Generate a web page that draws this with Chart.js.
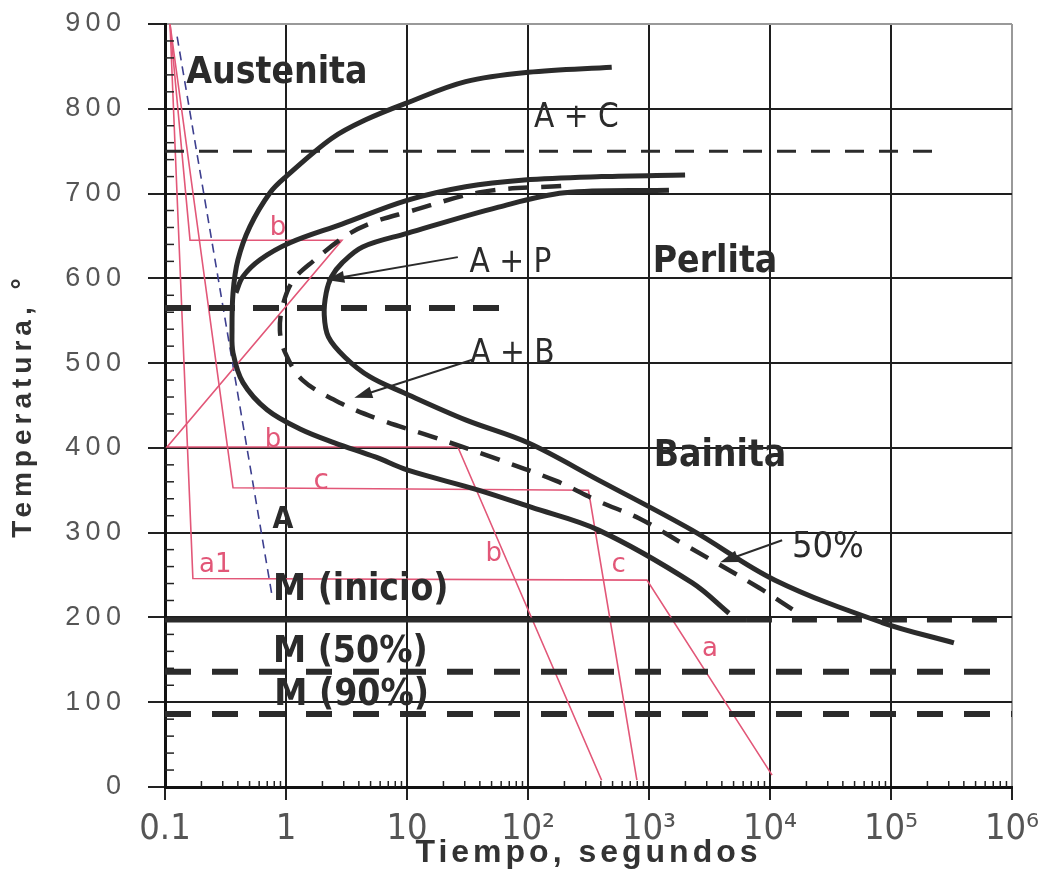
<!DOCTYPE html>
<html>
<head>
<meta charset="utf-8">
<script src="https://cdn.jsdelivr.net/npm/chart.js@4.4.0/dist/chart.umd.min.js"></script>
<style>
    body { margin: 0; background: #fff; }
    #wrap { width: 1064px; height: 884px; position: relative; }
</style>
</head>
<body>
<div id="wrap"><canvas id="ttt-chart"></canvas></div>
<script>
//////////////////////////////////////////////////////////////////////////////////////
//------------------------ DATA (time in s, temperature in °C) ----------------------//
var tickTemps = [0, 100, 200, 300, 400, 500, 600, 700, 800, 900]
var tickTimes = [0.1, 1, 10, 100, 1000, 10000, 100000, 1000000]
var tickTimeLabels = ['0.1', '1', '10', '10²', '10³', '10⁴', '10⁵', '10⁶']

//Start of transformation (cementite + pearlite/bainite start)
var startTime = [492, 100, 30.5, 10, 4.55, 2.38, 1.0, 0.738, 0.503, 0.401, 0.365, 0.358, 0.365, 0.441, 0.697, 1.32, 2.52, 5.54, 10, 39.5, 106, 383, 2265, 4580]
var startTemp = [849, 843, 832, 807, 787, 765, 720, 701, 661, 622, 583, 539, 512, 477, 445, 422, 406, 389, 374, 350, 330, 303, 241, 205]

//Pearlite start branch
var pearliteTime = [1987, 406, 93, 30.5, 10, 2.9, 1.08, 0.61, 0.44, 0.386]
var pearliteTemp = [722, 720, 716, 708, 692, 664, 642, 622, 602, 583]

//50% transformed (dashed)
var halfTime = [188, 41.8, 10, 5.22, 3.19, 1.67, 1.15, 0.944, 0.89, 0.98, 1.37, 2.9, 6.35, 15.6, 50.3, 171, 383, 825, 1803, 8110, 18400]
var halfTemp = [709, 702, 678, 666, 651, 620, 598, 569, 539, 513, 480, 452, 432, 414, 389, 361, 337, 317, 289, 235, 202]

//End of transformation
var finishTime = [1462, 200, 57, 10, 4.29, 2.9, 2.38, 2.15, 2.07, 2.24, 3.07, 4.92, 9.4, 30.5, 100, 383, 2265, 11000, 84300, 331000]
var finishTemp = [704, 701, 684, 653, 637, 618, 602, 583, 557, 531, 507, 484, 465, 433, 406, 362, 303, 244, 194, 170]

//Horizontal reference lines
var a1Time = [0.1, 245000], a1Temp = [750, 750]
var midTime = [0.1, 73], midTemp = [565, 565]
var msSolidTime = [0.1, 6450], msDashTime = [6450, 1000000], msTemp = [197, 197]
var m50Time = [0.1, 755000], m50Temp = [136, 136]
var m90Time = [0.1, 1000000], m90Temp = [86, 86]

//Hand drawn cooling paths (red) and critical cooling (blue)
var pathATime = [0.11, 0.17, 962, 10400], pathATemp = [900, 246, 244, 14]
var pathBTime = [0.11, 0.161, 2.9, 0.104, 26.3, 406], pathBTemp = [900, 645, 645, 401, 401, 8]
var pathCTime = [0.11, 0.365, 316, 794], pathCTemp = [900, 353, 350, 8]
var criticalTime = [0.126, 0.766], criticalTemp = [885, 226]

//Arrows [from, to]
var arrowAP = [[26.3, 625], [2.15, 598]]
var arrowAB = [[34.7, 504], [3.67, 459]]
var arrow50 = [[12600, 291], [3870, 265]]

//////////////////////////////////////////////////////////////////////////////////////
var narrow = '"Liberation Sans Narrow", "DejaVu Sans Condensed", sans-serif'
var ink = '#2b2b2b'
var red = '#e25778'

var notes = [
    { text: 'Austenita', t: 0.84, T: 842, font: 'bold 37px ' + narrow },
    { text: 'A + C', t: 251, T: 789, font: '33px ' + narrow },
    { text: 'A + P', t: 71.6, T: 618, font: '33px ' + narrow },
    { text: 'Perlita', t: 3510, T: 619, font: 'bold 37px ' + narrow },
    { text: 'A + B', t: 74.3, T: 510, font: '33px ' + narrow },
    { text: 'Bainita', t: 3860, T: 390, font: 'bold 37px ' + narrow },
    { text: '50%', t: 30100, T: 282, font: '36px ' + narrow },
    { text: 'A', t: 0.944, T: 315, font: 'bold 30px ' + narrow },
    { text: 'M (inicio)', t: 0.78, T: 232, font: 'bold 37px ' + narrow, align: 'left' },
    { text: 'M (50%)', t: 0.78, T: 159, font: 'bold 37px ' + narrow, align: 'left' },
    { text: 'M (90%)', t: 0.8, T: 108, font: 'bold 37px ' + narrow, align: 'left' },
    { text: 'b', t: 0.86, T: 659, font: '26px "DejaVu Sans", sans-serif', color: red },
    { text: 'b', t: 0.78, T: 409, font: '26px "DejaVu Sans", sans-serif', color: red },
    { text: 'c', t: 1.95, T: 360, font: '28px "DejaVu Sans", sans-serif', color: red },
    { text: 'a1', t: 0.26, T: 262, font: '26px "DejaVu Sans", sans-serif', color: red },
    { text: 'b', t: 52, T: 274, font: '26px "DejaVu Sans", sans-serif', color: red },
    { text: 'c', t: 562, T: 262, font: '26px "DejaVu Sans", sans-serif', color: red },
    { text: 'a', t: 3190, T: 162, font: '26px "DejaVu Sans", sans-serif', color: red }
]

function pts(times, temps) {
    return times.map((t, i) => ({ x: t, y: temps[i] }))
}

function lineSet(times, temps, color, width, dash, tension, order) {
    return {
        data: pts(times, temps),
        showLine: true,
        borderColor: color,
        borderWidth: width,
        borderDash: dash || [],
        pointRadius: 0,
        tension: tension || 0,
        order: order || 1,
        borderCapStyle: 'butt'
    }
}

function drawArrow(ctx, xs, ys, arrow) {
    var x0 = xs.getPixelForValue(arrow[0][0]), y0 = ys.getPixelForValue(arrow[0][1])
    var x1 = xs.getPixelForValue(arrow[1][0]), y1 = ys.getPixelForValue(arrow[1][1])
    var ang = Math.atan2(y1 - y0, x1 - x0)
    ctx.beginPath()
    ctx.moveTo(x0, y0)
    ctx.lineTo(x1 - Math.cos(ang) * 10, y1 - Math.sin(ang) * 10)
    ctx.stroke()
    ctx.beginPath()
    ctx.moveTo(x1, y1)
    ctx.lineTo(x1 - Math.cos(ang) * 18 + Math.sin(ang) * 6, y1 - Math.sin(ang) * 18 - Math.cos(ang) * 6)
    ctx.lineTo(x1 - Math.cos(ang) * 18 - Math.sin(ang) * 6, y1 - Math.sin(ang) * 18 + Math.cos(ang) * 6)
    ctx.closePath()
    ctx.fill()
}

const decorPlugin = {
    id: 'tttDecor',
    afterDatasetsDraw(chart) {
        const ctx = chart.ctx
        const xs = chart.scales.x, ys = chart.scales.y
        const area = chart.chartArea
        ctx.save()

        //minor ticks
        ctx.strokeStyle = '#222'
        ctx.lineWidth = 1.5
        for (let t = 20; t < 900; t += 20) {
            if (t % 100 === 0) continue
            const py = ys.getPixelForValue(t)
            ctx.beginPath(); ctx.moveTo(area.left, py); ctx.lineTo(area.left + 9, py); ctx.stroke()
        }
        for (let i = 0; i < tickTimes.length - 1; i++) {
            for (let k = 2; k < 10; k++) {
                const px = xs.getPixelForValue(tickTimes[i] * k)
                ctx.beginPath(); ctx.moveTo(px, area.bottom); ctx.lineTo(px, area.bottom - 6); ctx.stroke()
            }
        }

        //arrows
        ctx.strokeStyle = ink
        ctx.fillStyle = ink
        ctx.lineWidth = 2
        drawArrow(ctx, xs, ys, arrowAP)
        drawArrow(ctx, xs, ys, arrowAB)
        drawArrow(ctx, xs, ys, arrow50)

        //labels
        ctx.textBaseline = 'middle'
        notes.forEach(n => {
            ctx.font = n.font
            ctx.fillStyle = n.color || ink
            ctx.textAlign = n.align || 'center'
            ctx.fillText(n.text, xs.getPixelForValue(n.t), ys.getPixelForValue(n.T))
        })

        //axis titles
        ctx.fillStyle = '#333'
        ctx.font = 'bold 32px "Liberation Sans", sans-serif'
        ctx.letterSpacing = '4px'
        ctx.textAlign = 'center'
        ctx.fillText('Tiempo, segundos', (area.left + area.right) / 2, 853)

        ctx.translate(23, (area.top + area.bottom) / 2)
        ctx.rotate(-Math.PI / 2)
        ctx.font = 'bold 28px "Liberation Sans", sans-serif'
        ctx.letterSpacing = '5px'
        ctx.fillText('Temperatura, °', 0, 0)
        ctx.restore()
    }
}

var ctxTtt = document.getElementById('ttt-chart').getContext('2d')

let tttChart = new Chart(ctxTtt, {
    type: 'scatter',
    data: {
        datasets: [
            lineSet(criticalTime, criticalTemp, '#3d3f8f', 1.6, [9, 6], 0, 3),
            lineSet(pathATime, pathATemp, red, 1.6, null, 0, 2),
            lineSet(pathBTime, pathBTemp, red, 1.6, null, 0, 2),
            lineSet(pathCTime, pathCTemp, red, 1.6, null, 0, 2),
            lineSet(a1Time, a1Temp, ink, 3, [19, 15]),
            lineSet(midTime, midTemp, ink, 6, [26, 18]),
            lineSet(msSolidTime, msTemp, ink, 5),
            lineSet(msDashTime, msTemp, ink, 5, [25, 20]),
            lineSet(m50Time, m50Temp, ink, 6, [26, 21]),
            lineSet(m90Time, m90Temp, ink, 6, [26, 21]),
            lineSet(startTime, startTemp, ink, 5, null, 0.35),
            lineSet(pearliteTime, pearliteTemp, ink, 5, null, 0.35),
            lineSet(halfTime, halfTemp, ink, 4.5, [20, 13], 0.35),
            lineSet(finishTime, finishTemp, ink, 5, null, 0.35)
        ]
    },
    options: {
        responsive: true,
        maintainAspectRatio: false,
        animation: false,
        layout: { padding: { top: 24, right: 52, left: 0, bottom: 0 } },
        plugins: {
            legend: { display: false },
            tooltip: { enabled: false }
        },
        scales: {
            x: {
                type: 'logarithmic',
                min: 0.1,
                max: 1000000,
                afterBuildTicks: scale => { scale.ticks = tickTimes.map(v => ({ value: v })) },
                afterFit: scale => { scale.height = 97 },
                ticks: {
                    autoSkip: false,
                    maxRotation: 0,
                    padding: 8,
                    color: '#555',
                    font: { family: narrow, size: 36 },
                    callback: (value, index) => tickTimeLabels[index]
                },
                grid: {
                    color: c => (c.tick && c.tick.value === 1000000) ? '#999' : '#1e1e1e',
                    lineWidth: 2,
                    tickLength: 13,
                    tickColor: '#222'
                },
                border: { color: '#111', width: 3 }
            },
            y: {
                min: 0,
                max: 900,
                afterBuildTicks: scale => { scale.ticks = tickTemps.map(v => ({ value: v })) },
                afterFit: scale => { scale.width = 165 },
                ticks: {
                    padding: 0,
                    color: '#555',
                    font: { family: '"Liberation Sans", sans-serif', size: 27 },
                    //trailing em space keeps the digits clear of the tick marks
                    callback: value => String(value).split('').join('\u2009') + '\u2003'
                },
                grid: {
                    color: c => (c.tick && c.tick.value === 900) ? '#999' : '#1e1e1e',
                    lineWidth: 2,
                    tickLength: 17,
                    tickColor: '#222'
                },
                border: { color: '#111', width: 3 }
            }
        }
    },
    plugins: [decorPlugin]
})
</script>
</body>
</html>
